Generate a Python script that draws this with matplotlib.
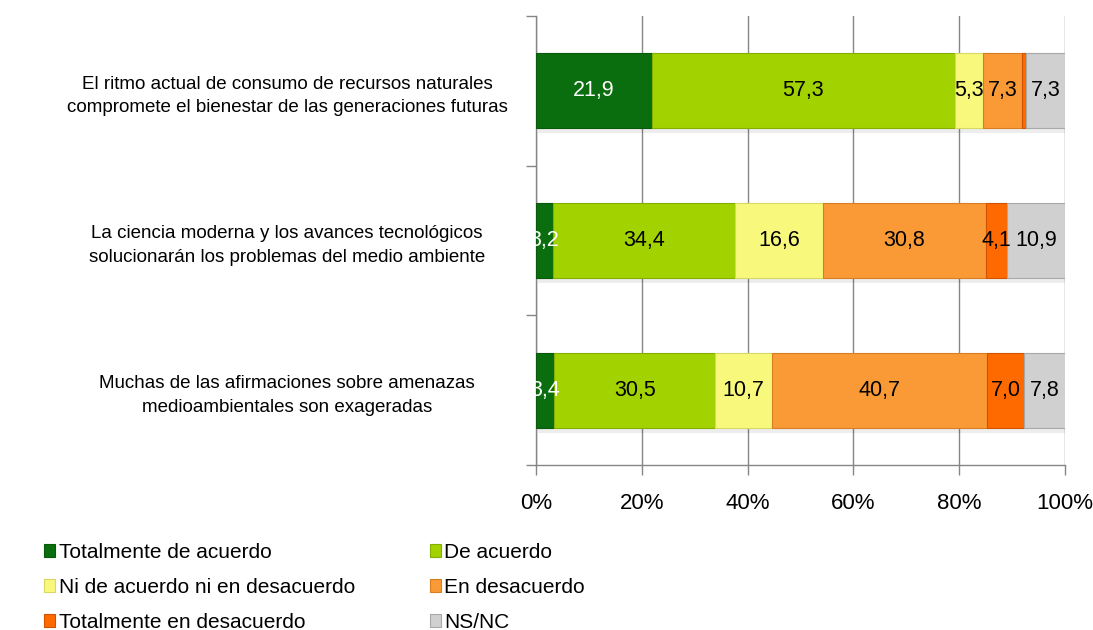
import matplotlib
matplotlib.use("Agg")
import matplotlib.pyplot as plt
import numpy as np

plt.rcParams['font.family'] = ['Liberation Sans', 'DejaVu Sans']

categories = [
    "El ritmo actual de consumo de recursos naturales\ncompromete el bienestar de las generaciones futuras",
    "La ciencia moderna y los avances tecnológicos\nsolucionarán los problemas del medio ambiente",
    "Muchas de las afirmaciones sobre amenazas\nmedioambientales son exageradas",
]
series_names = [
    "Totalmente de acuerdo",
    "De acuerdo",
    "Ni de acuerdo ni en desacuerdo",
    "En desacuerdo",
    "Totalmente en desacuerdo",
    "NS/NC",
]
totalmente_de_acuerdo = [21.9, 3.2, 3.4]
de_acuerdo = [57.3, 34.4, 30.5]
ni_ni = [5.3, 16.6, 10.7]
en_desacuerdo = [7.3, 30.8, 40.7]
totalmente_en_desacuerdo = [0.9, 4.1, 7.0]
ns_nc = [7.3, 10.9, 7.8]
show_label = [
    [True, True, True],
    [True, True, True],
    [True, True, True],
    [True, True, True],
    [False, True, True],
    [True, True, True],
]
xticks = [0, 20, 40, 60, 80, 100]

series = [totalmente_de_acuerdo, de_acuerdo, ni_ni, en_desacuerdo,
          totalmente_en_desacuerdo, ns_nc]
colors = ["#0B6E0E", "#A2D200", "#F8F87C", "#F99A36", "#FF6A00", "#D0D0D0"]
edges = ["#075A0A", "#86AE00", "#D8D860", "#D87E20", "#D05200", "#A8A8A8"]
text_colors = ["white", "black", "black", "black", "black", "black"]

FS_CAT = 13.5
FS_LBL = 15.5
FS_TICK = 16
FS_LEG = 15

fig = plt.figure(figsize=(10.93, 6.30), dpi=100)
ax = fig.add_axes([536/1093, 1-465/630, (1065-536)/1093, (465-16)/630])

y = np.arange(len(categories))
left = np.zeros(len(categories))
handles = []
for i, (vals, name) in enumerate(zip(series, series_names)):
    vals = np.array(vals, dtype=float)
    # subtle shadow below the bars
    ax.barh(y + 0.035, vals, left=left + 0.3, height=0.5, color="#000000",
            alpha=0.07, zorder=2, linewidth=0)
    h = ax.barh(y, vals, left=left, height=0.5, color=colors[i],
                edgecolor=edges[i], linewidth=0.8, zorder=3, label=name)
    handles.append(h)
    for j, v in enumerate(vals):
        if show_label[i][j]:
            ax.text(left[j] + v / 2, y[j], f"{v:.1f}".replace(".", ","),
                    ha="center", va="center", fontsize=FS_LBL,
                    color=text_colors[i], zorder=5)
    left += vals

ax.set_xlim(0, 100)
ax.set_ylim(len(categories) - 0.5, -0.5)
ax.set_xticks(xticks)
ax.set_xticklabels([f"{t}%" for t in xticks], fontsize=FS_TICK)
ax.set_yticks(y)
ax.set_yticklabels(categories, fontsize=FS_CAT, ha="center", linespacing=1.5)
ax.tick_params(axis="y", length=0, pad=(536 - 287) * 0.72)
ax.set_yticks(np.arange(-0.5, len(categories) + 0.5, 1), minor=True)
ax.tick_params(axis="y", which="minor", length=7, color="#868686", width=1)
ax.tick_params(axis="x", length=7, color="#868686", width=1, pad=13)
ax.grid(axis="x", color="#868686", linewidth=1, zorder=0)
ax.set_axisbelow(True)
for s in ["top", "right"]:
    ax.spines[s].set_visible(False)
for s in ["left", "bottom"]:
    ax.spines[s].set_color("#868686")
    ax.spines[s].set_linewidth(1)

order = [0, 2, 4, 1, 3, 5]
fig.legend([handles[k] for k in order], [series_names[k] for k in order],
           loc="upper left", bbox_to_anchor=(44/1093, 1 - 543/630), ncol=2,
           frameon=False, fontsize=FS_LEG, handlelength=0.55, handleheight=0.55,
           handletextpad=0.15, columnspacing=3.6, labelspacing=0.76,
           borderaxespad=0, borderpad=0)

fig.savefig("out.png", dpi=100)
